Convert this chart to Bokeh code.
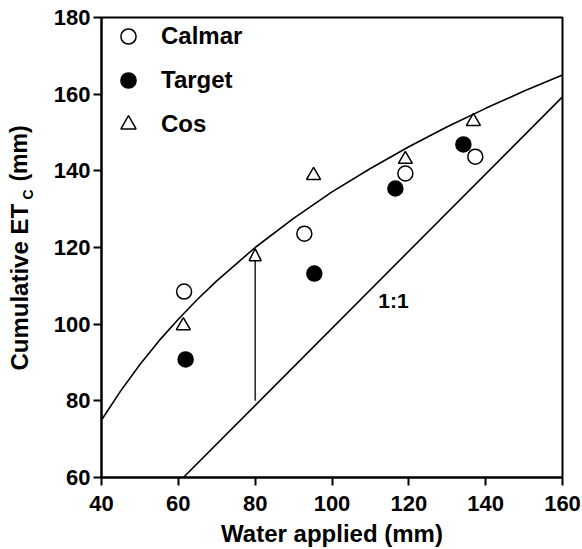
import math
from bokeh.plotting import figure
from bokeh.layouts import row
from bokeh.embed import file_html
from bokeh.resources import INLINE
from bokeh.core.properties import value
from bokeh.models import (Range1d, Legend, LegendItem, Arrow, NormalHead,
                          ColumnDataSource, FixedTicker)

# ---- data ----
calmar_x = [61.5, 92.8, 119.1, 137.3]
calmar_y = [108.5, 123.6, 139.3, 143.7]
target_x = [61.9, 95.4, 116.5, 134.2]
target_y = [90.8, 113.2, 135.4, 146.9]
cos_x = [61.3, 95.2, 119.1, 136.8]
cos_y = [99.6, 138.8, 143.0, 152.9]

curve_x = [40, 45, 50, 55, 60, 65, 70, 80, 90, 100, 110, 120, 130, 140, 150, 160]
curve_y = [75.0, 82.6, 89.5, 95.7, 101.3, 106.5, 111.3, 120.0, 127.6, 134.5,
           140.6, 146.3, 151.5, 156.3, 160.8, 165.0]

one_x = [61.3, 160]
one_y = [60, 159.3]

arrow_x = [80]
arrow_y0 = [80]
arrow_y1 = [119.7]

x_ticks = [40, 60, 80, 100, 120, 140, 160]
y_ticks = [60, 80, 100, 120, 140, 160, 180]

FONT = "Liberation Sans"
W, H = 582, 549
LAB_W = 40

# ---- narrow panel holding the rotated y-axis title (with subscript) ----
# its frame is aligned with the main frame, so it shares the y range
lab = figure(width=LAB_W, height=H, x_range=Range1d(0, LAB_W), y_range=Range1d(60, 180),
             output_backend="svg", toolbar_location=None,
             x_axis_location=None, y_axis_location=None,
             min_border_left=0, min_border_right=0, min_border_top=17, min_border_bottom=72)
lab.grid.visible = False
lab.outline_line_color = None
lab.background_fill_color = "white"
lab.border_fill_color = "white"
ang = math.pi / 2
lab.text(x=[18.5], y=[87.9], text=["Cumulative ET"], angle=ang, text_font=value(FONT),
         text_font_style="bold", text_font_size="24px", text_align="left",
         text_baseline="middle", text_color="black")
lab.text(x=[27], y=[132.5], text=["C"], angle=ang, text_font=value(FONT),
         text_font_style="bold", text_font_size="14px", text_align="left",
         text_baseline="middle", text_color="black")
lab.text(x=[18.5], y=[137.2], text=["(mm)"], angle=ang, text_font=value(FONT),
         text_font_style="bold", text_font_size="23px", text_align="left",
         text_baseline="middle", text_color="black")

# ---- main chart ----
p = figure(width=W - LAB_W, height=H, x_range=Range1d(40, 160), y_range=Range1d(60, 180),
           output_backend="svg", toolbar_location=None,
           min_border_left=101 - LAB_W, min_border_right=20, min_border_top=17,
           min_border_bottom=72)

p.xgrid.visible = False
p.ygrid.visible = False
p.outline_line_color = "black"
p.outline_line_width = 2
p.background_fill_color = "white"
p.border_fill_color = "white"

for ax in (p.xaxis[0], p.yaxis[0]):
    ax.axis_line_width = 2
    ax.axis_line_color = "black"
    ax.major_tick_line_width = 2
    ax.major_tick_line_color = "black"
    ax.major_tick_in = 0
    ax.major_tick_out = 8
    ax.minor_tick_line_color = None
    ax.major_label_text_font = FONT
    ax.major_label_text_font_style = "bold"
    ax.major_label_text_font_size = "22px"
    ax.major_label_text_color = "black"

p.xaxis.ticker = FixedTicker(ticks=x_ticks)
p.yaxis.ticker = FixedTicker(ticks=y_ticks)
p.xaxis.major_label_standoff = 10
p.yaxis.major_label_standoff = 3

p.xaxis.axis_label = "Water applied (mm)"
p.xaxis.axis_label_text_font = FONT
p.xaxis.axis_label_text_font_style = "bold"
p.xaxis.axis_label_text_font_size = "24px"
p.xaxis.axis_label_text_color = "black"
p.xaxis.axis_label_standoff = 6

# curve and 1:1 line
p.line(curve_x, curve_y, line_color="black", line_width=1.6)
p.line(one_x, one_y, line_color="black", line_width=1.6)

# arrow
asrc = ColumnDataSource(dict(x=arrow_x, y0=arrow_y0, y1=arrow_y1))
p.add_layout(Arrow(source=asrc, x_start="x", y_start="y0", x_end="x", y_end="y1",
                   line_width=1.3, line_color="black",
                   end=NormalHead(size=12, fill_color="white", line_color="black", line_width=1.5)))

r_cal = p.scatter(calmar_x, calmar_y, marker="circle", size=15, fill_color="white",
                  line_color="black", line_width=1.5)
r_tar = p.scatter(target_x, target_y, marker="circle", size=15, fill_color="black",
                  line_color="black", line_width=1.5)
r_cos = p.scatter(cos_x, cos_y, marker="triangle", size=14, fill_color="white",
                  line_color="black", line_width=1.5)

legend = Legend(items=[LegendItem(label="Calmar", renderers=[r_cal]),
                       LegendItem(label="Target", renderers=[r_tar]),
                       LegendItem(label="Cos", renderers=[r_cos])],
                location="top_left", margin=0, padding=1,
                glyph_width=54, glyph_height=38, label_height=38, spacing=6,
                label_standoff=6, label_text_font=FONT, label_text_font_style="bold",
                label_text_font_size="24px", label_text_color="black",
                border_line_color=None, background_fill_alpha=0)
p.add_layout(legend)

# 1:1 label
p.text(x=[116.0], y=[106.2], text=["1:1"], text_font=value(FONT), text_font_style="bold",
       text_font_size="21px", text_align="center", text_baseline="middle", text_color="black")

layout = row(lab, p, spacing=0)
open("out.html", "w").write(file_html(layout, INLINE))
